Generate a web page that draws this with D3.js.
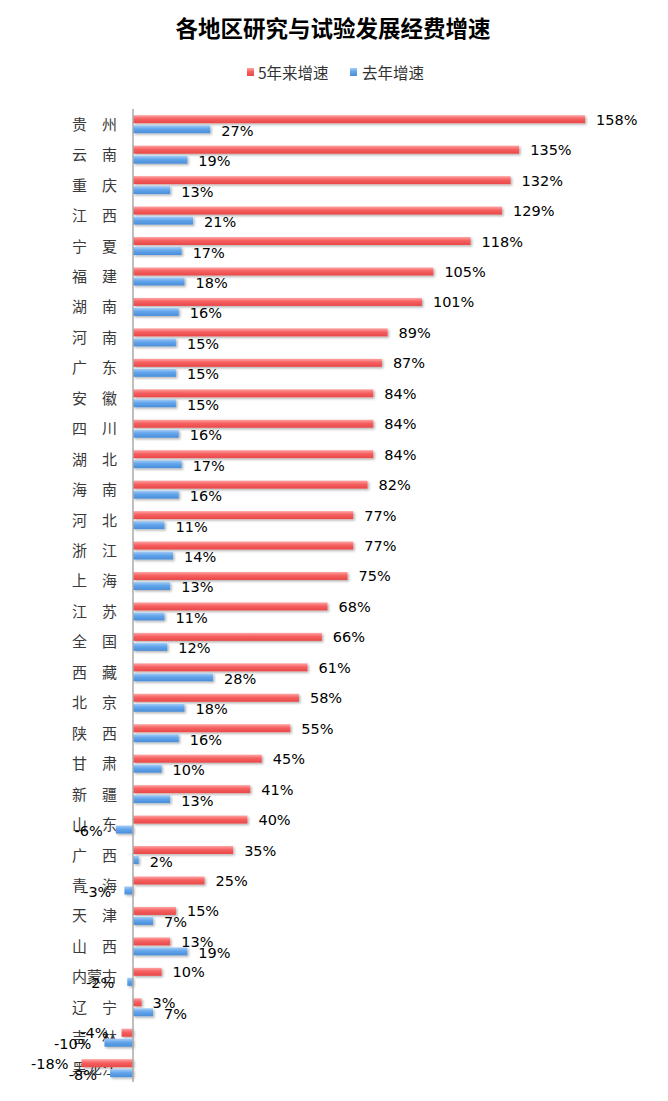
<!DOCTYPE html>
<html><head><meta charset="utf-8">
<script src="https://cdn.jsdelivr.net/npm/d3@7/dist/d3.min.js"></script>
<style>
body{margin:0;background:#fff;}
svg{display:block;}
</style></head>
<body>
<script>
const title = "各地区研究与试验发展经费增速";
const seriesNames = ["5年来增速", "去年增速"];
const categories = ["贵州","云南","重庆","江西","宁夏","福建","湖南","河南","广东","安徽","四川","湖北","海南","河北","浙江","上海","江苏","全国","西藏","北京","陕西","甘肃","新疆","山东","广西","青海","天津","山西","内蒙古","辽宁","吉林","黑龙江"];
const fiveYear = [158,135,132,129,118,105,101,89,87,84,84,84,82,77,77,75,68,66,61,58,55,45,41,40,35,25,15,13,10,3,-4,-18];
const lastYear = [27,19,13,21,17,18,16,15,15,15,16,17,16,11,14,13,11,12,28,18,16,10,13,-6,2,-3,7,19,-2,7,-10,-8];

const W = 668, H = 1101;
const svg = d3.select("body").append("svg").attr("width", W).attr("height", H);
const defs = svg.append("defs");
function grad(id, stops){
  const g = defs.append("linearGradient").attr("id", id).attr("x1",0).attr("y1",0).attr("x2",0).attr("y2",1);
  stops.forEach(s => g.append("stop").attr("offset", s[0]).attr("stop-color", s[1]));
}
grad("gRed", [[0,"#ffa4a4"],[0.45,"#f66060"],[1,"#e84848"]]);
grad("gBlue", [[0,"#a6cdf6"],[0.45,"#62a5ec"],[1,"#4a8dd8"]]);
const f = defs.append("filter").attr("id","shadow").attr("x","-5%").attr("y","-40%").attr("width","115%").attr("height","200%");
f.append("feDropShadow").attr("dx",1.5).attr("dy",1.5).attr("stdDeviation",1).attr("flood-color","#000").attr("flood-opacity",0.3);

const x = d3.scaleLinear().domain([0, d3.max(fiveYear)]).range([133, 585]);
const y = d3.scaleBand().domain(categories).range([109, 109 + 32*30.45]);
const barH = 8;

// title
svg.append("text").attr("x", 333).attr("y", 37).attr("text-anchor","middle")
  .attr("font-family","'Noto Sans CJK SC', sans-serif").attr("font-weight","bold")
  .attr("font-size", 22.5).attr("fill","#000").text(title);

// legend
const lg = [{x:247, tx:258, fill:"url(#gRed)", name:seriesNames[0]},{x:350, tx:362, fill:"url(#gBlue)", name:seriesNames[1]}];
lg.forEach(l => {
  svg.append("rect").attr("x", l.x).attr("y", 68).attr("width", 7).attr("height", 8).attr("fill", l.fill);
  svg.append("text").attr("x", l.tx).attr("y", 78.5).attr("font-family","'Noto Sans CJK SC', sans-serif")
    .attr("font-size", 15.5).attr("fill","#333").text(l.name);
});

const data = categories.map((c,i) => ({c, a: fiveYear[i], b: lastYear[i]}));

// category labels
svg.append("g").selectAll("text").data(data).join("text")
  .attr("x", 117).attr("y", d => y(d.c) + y.bandwidth()/2 + 5.5)
  .attr("text-anchor","end").attr("font-family","'Noto Sans CJK SC', sans-serif")
  .attr("font-size", 15).attr("fill","#3a3a3a")
  .text(d => d.c.length === 2 ? d.c[0] + "\u3000" + d.c[1] : d.c);

const x0 = x(0);
const mid = d => y(d.c) + y.bandwidth()/2;
// bars
const bars = svg.append("g").attr("filter","url(#shadow)");
bars.selectAll("rect.r").data(data).join("rect").attr("class","r")
  .attr("x", d => Math.min(x(d.a), x0)).attr("width", d => Math.abs(x(d.a)-x0))
  .attr("y", d => mid(d) - 9).attr("height", barH).attr("fill","url(#gRed)");
bars.selectAll("rect.b").data(data).join("rect").attr("class","b")
  .attr("x", d => Math.min(x(d.b), x0)).attr("width", d => Math.abs(x(d.b)-x0))
  .attr("y", d => mid(d) + 1).attr("height", barH).attr("fill","url(#gBlue)");

// axis line
svg.append("line").attr("x1", x0).attr("x2", x0).attr("y1", 109).attr("y2", 1082)
  .attr("stroke","#aaa").attr("stroke-width", 1.5);

// value labels
const lab = svg.append("g").attr("font-family","'DejaVu Sans', sans-serif").attr("font-size", 14.5).attr("fill","#000");
lab.selectAll("text.r").data(data).join("text").attr("class","r")
  .attr("x", d => d.a >= 0 ? x(d.a) + 11 : x(d.a) - 13)
  .attr("text-anchor", d => d.a >= 0 ? "start" : "end")
  .attr("y", d => mid(d) + 0.5).text(d => d.a + "%");
lab.selectAll("text.b").data(data).join("text").attr("class","b")
  .attr("x", d => d.b >= 0 ? x(d.b) + 11 : x(d.b) - 13)
  .attr("text-anchor", d => d.b >= 0 ? "start" : "end")
  .attr("y", d => mid(d) + 11.5).text(d => d.b + "%");
</script>
</body></html>
